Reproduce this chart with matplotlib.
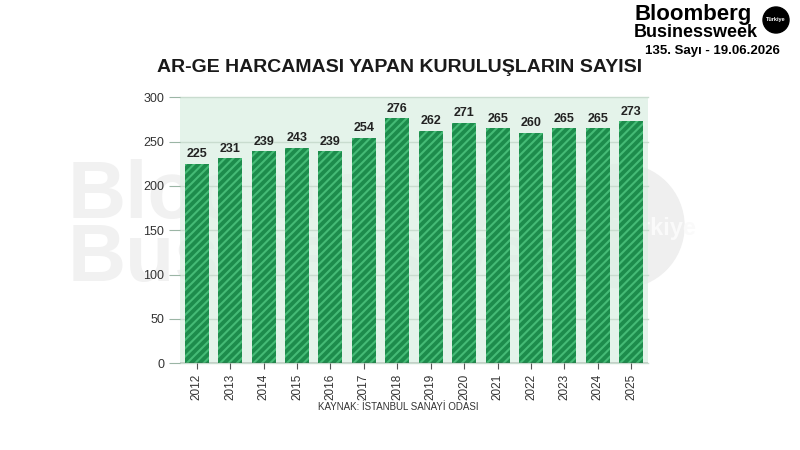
import matplotlib.pyplot as plt
from matplotlib.patches import Ellipse

plt.rcParams['font.family'] = ['Liberation Sans', 'DejaVu Sans']
plt.rcParams['hatch.linewidth'] = 1.5

# veriler
years = ['2012', '2013', '2014', '2015', '2016', '2017', '2018',
         '2019', '2020', '2021', '2022', '2023', '2024', '2025']
counts = [225, 231, 239, 243, 239, 254, 276, 262, 271, 265, 260, 265, 265, 273]
yticks = [0, 50, 100, 150, 200, 250, 300]

W, H = 800, 450
fig = plt.figure(figsize=(8, 4.5), dpi=100)


def circ(cx, cy, r, **kw):
    # piksel cinsinden daire -> figür koordinatı
    return Ellipse((cx / W, 1 - cy / H), 2 * r / W, 2 * r / H,
                   transform=fig.transFigure, **kw)


# filigran
fig.text(0.085, 0.515, 'Bloomberg', fontsize=58, fontweight='bold', color='#f1f1f1', zorder=-2)
fig.text(0.085, 0.375, 'Businessweek', fontsize=58, fontweight='bold', color='#f1f1f1', zorder=-2)
fig.patches.append(circ(622, 226, 62, color='#efefef', zorder=-2))
fig.text(655 / W, 1 - 228 / H, 'Türkiye', fontsize=17, fontweight='bold', color='#fafafa',
         ha='center', va='center', zorder=-1)

ax = fig.add_axes([0.225, 0.193, 0.585, 0.591])
ax.patch.set_alpha(0)
ax.axhspan(0, 300, facecolor='#dcefe4', alpha=0.75, zorder=0)

x = range(len(years))
bars = ax.bar(x, counts, width=0.72, color='#1d8c4c', edgecolor='#45bb76',
              linewidth=0, hatch='////', zorder=3)
for b, v in zip(bars, counts):
    ax.text(b.get_x() + b.get_width() / 2, v + 4, str(v), ha='center', va='bottom',
            fontsize=9, fontweight='bold', color='#222222', zorder=4)

ax.set_xlim(-0.5, len(years) - 0.5)
ax.set_ylim(0, 300)
ax.set_yticks(yticks)
ax.set_xticks(list(x))
ax.set_xticklabels(years, rotation=90, fontsize=8.5, color='#333333')
ax.tick_params(axis='y', length=8, color='#9bb5a5', labelsize=9, labelcolor='#333333')
ax.tick_params(axis='x', length=4, color='#555555')
for t in yticks:
    ax.axhline(t, color='#c9dccf', linewidth=1.0, zorder=1, clip_on=False)
for s in ax.spines.values():
    s.set_visible(False)
ax.axhline(0, color='#555555', linewidth=1.0, zorder=4)

fig.text(0.5, 0.84, 'AR-GE HARCAMASI YAPAN KURULUŞLARIN SAYISI', ha='center',
         fontsize=14, fontweight='bold', color='#1a1a1a')
fig.text(0.397, 0.09, 'KAYNAK: İSTANBUL SANAYİ ODASI', fontsize=7, color='#333333')

# logo
fig.text(634 / W, 1 - 20 / H, 'Bloomberg', fontsize=16, fontweight='bold', color='black')
fig.text(634 / W, 1 - 37 / H, 'Businessweek', fontsize=13, fontweight='bold', color='black')
fig.patches.append(circ(776, 20, 13, color='black', zorder=5))
fig.text(776 / W, 1 - 20 / H, 'Türkiye', fontsize=4, fontweight='bold', color='white',
         ha='center', va='center', zorder=6)
fig.text(0.806, 0.88, '135. Sayı - 19.06.2026', fontsize=9.5, fontweight='bold', color='black')

fig.savefig('out.png', dpi=100)
